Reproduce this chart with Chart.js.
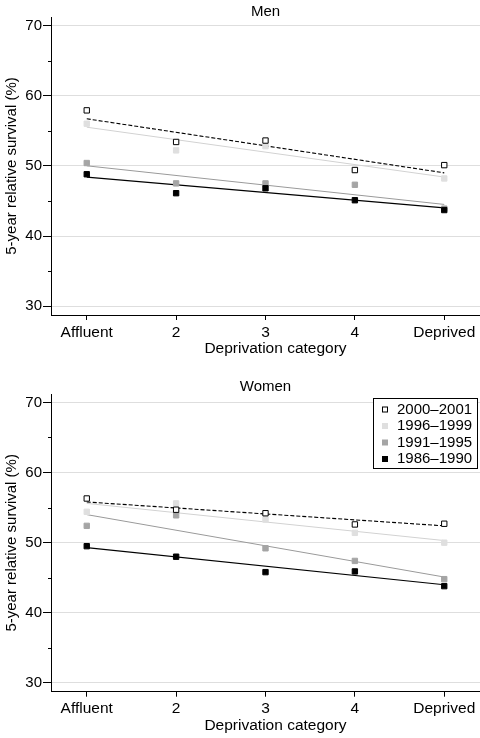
<!DOCTYPE html>
<html><head><meta charset="utf-8">
<script src="https://cdn.jsdelivr.net/npm/chart.js@4/dist/chart.umd.min.js"></script>
<style>html,body{margin:0;padding:0;background:#fff;} canvas{display:block;}</style>
</head><body>
<canvas id="men" width="480" height="369"></canvas>
<canvas id="women" width="480" height="369"></canvas>
<script>
// ---- data ----
const categories = ['Affluent', '2', '3', '4', 'Deprived'];
const periods = ['2000–2001', '1996–1999', '1991–1995', '1986–1990'];
const yTicks = [30, 35, 40, 45, 50, 55, 60, 65, 70];
const yLabelTicks = [30, 40, 50, 60, 70];

const men2000 = [57.9, 53.4, 53.6, 49.4, 50.1];
const men1996 = [56.0, 52.2, 52.8, 49.4, 48.2];
const men1991 = [50.4, 47.5, 47.5, 47.3, 43.9];
const men1986 = [48.8, 46.1, 46.8, 45.1, 43.7];
// fitted trend lines: value at Affluent, value at Deprived
const menFit2000 = [56.7, 49.0];
const menFit1996 = [55.5, 48.4];
const menFit1991 = [50.0, 44.5];
const menFit1986 = [48.4, 44.0];

const women2000 = [56.3, 54.7, 54.2, 52.6, 52.7];
const women1996 = [54.4, 55.6, 53.3, 51.4, 50.0];
const women1991 = [52.4, 53.9, 49.2, 47.4, 44.8];
const women1986 = [49.5, 48.0, 45.8, 45.9, 43.8];
const womenFit2000 = [55.8, 52.4];
const womenFit1996 = [55.6, 50.3];
const womenFit1991 = [54.0, 45.1];
const womenFit1986 = [49.3, 44.0];

// ---- styles ----
const FONT = '"Liberation Sans", Arial, Helvetica, sans-serif';
Chart.defaults.font.family = FONT;
Chart.defaults.font.size = 15;
Chart.defaults.color = '#000';
const markerFill = ['#ffffff', '#dfdfdf', '#a5a5a5', '#000000'];
const markerBorder = ['#000000', '#dfdfdf', '#a5a5a5', '#000000'];
const lineColor = ['#000000', '#d2d2d2', '#9a9a9a', '#000000'];
const lineDash = [[4, 2], [], [], []];
const lineWidth = [1.1, 1, 1, 1.2];
const markerOrder = [0, 3, 2, 1];

const isCatTick = c => !!(c.tick && Number.isInteger(c.tick.value) && c.tick.value >= 1 && c.tick.value <= categories.length);

const minorTicks = {
  id: 'minorTicks',
  afterDraw(chart) {
    const s = chart.scales.y, ctx = chart.ctx, l = chart.chartArea.left;
    ctx.save(); ctx.strokeStyle = '#000'; ctx.lineWidth = 1;
    yTicks.filter(v => !yLabelTicks.includes(v)).forEach(v => {
      const y = Math.round(s.getPixelForValue(v)) + 0.5;
      ctx.beginPath(); ctx.moveTo(l - 3, y); ctx.lineTo(l, y); ctx.stroke();
    });
    ctx.restore();
  }
};

const texts = {
  id: 'texts',
  afterDraw(chart, args, o) {
    const ctx = chart.ctx, ca = chart.chartArea;
    ctx.save();
    ctx.fillStyle = '#000';
    ctx.font = '15px ' + FONT;
    ctx.textAlign = 'center';
    ctx.textBaseline = 'alphabetic';
    ctx.fillText(o.title, (ca.left + ca.right) / 2, o.titleY);
    ctx.textBaseline = 'middle';
    ctx.font = '15.5px ' + FONT;
    ctx.fillText('Deprivation category', (ca.left + ca.right) / 2 + 10, o.xTitleY);
    if (o.legend) {
      ctx.font = '15px ' + FONT;
      const bx = 373.5, by = 29.5, bw = 104, bh = 70;
      ctx.fillStyle = '#fff'; ctx.fillRect(bx, by, bw, bh);
      ctx.strokeStyle = '#000'; ctx.lineWidth = 1; ctx.strokeRect(bx, by, bw, bh);
      const rows = [40.5, 57, 73.5, 90];
      ctx.textAlign = 'left';
      periods.forEach((p, i) => {
        const cy = rows[i];
        ctx.fillStyle = markerFill[i];
        ctx.fillRect(382, cy - 3, 6, 6);
        if (i === 0) { ctx.strokeStyle = '#000'; ctx.strokeRect(382.5, cy - 2.5, 5, 5); }
        ctx.fillStyle = '#000';
        ctx.fillText(p, 397, cy);
      });
    }
    ctx.restore();
  }
};

function makeChart(id, series, fits, o) {
  const datasets = [];
  series.forEach((vals, i) => {
    datasets.push({
      label: periods[i],
      data: vals.map((v, j) => ({ x: j + 1, y: v })),
      showLine: false,
      pointStyle: 'rect',
      pointRadius: 3.8,
      pointBackgroundColor: markerFill[i],
      pointBorderColor: markerBorder[i],
      pointBorderWidth: 1,
      order: markerOrder[i]
    });
  });
  fits.forEach((f, i) => {
    datasets.push({
      label: periods[i] + ' fit',
      data: [{ x: 1, y: f[0] }, { x: categories.length, y: f[1] }],
      showLine: true,
      pointRadius: 0,
      borderColor: lineColor[i],
      borderWidth: lineWidth[i],
      borderDash: lineDash[i],
      order: 10 + i
    });
  });
  return new Chart(document.getElementById(id), {
    type: 'scatter',
    data: { datasets },
    plugins: [minorTicks, texts],
    options: {
      responsive: false, animation: false, devicePixelRatio: 1,
      layout: { autoPadding: false, padding: { top: o.topPad, right: 0, bottom: 0, left: 0 } },
      plugins: {
        legend: { display: false }, tooltip: { enabled: false },
        texts: o
      },
      scales: {
        x: {
          type: 'linear', min: 0.6, max: 5.4,
          afterBuildTicks: s => { s.ticks = categories.map((c, i) => ({ value: i + 1 })); },
          afterFit: s => { s.height = o.bottomH; s.paddingLeft = 0; s.paddingRight = 0; },
          ticks: { callback: v => categories[Math.round(v) - 1], padding: 3, autoSkip: false, maxRotation: 0, color: '#000', font: { size: 15.5 } },
          grid: {
            drawOnChartArea: false, drawTicks: true, tickLength: 5,
            color: c => isCatTick(c) ? '#000' : 'rgba(0,0,0,0)',
            tickColor: c => isCatTick(c) ? '#000' : 'rgba(0,0,0,0)'
          },
          border: { display: true, color: '#000', width: 1 }
        },
        y: {
          type: 'linear', min: 28.75, max: 71.2,
          afterBuildTicks: s => { s.ticks = yTicks.map(v => ({ value: v })); },
          afterFit: s => { s.width = 51; s.paddingTop = 0; s.paddingBottom = 0; },
          ticks: { callback: v => yLabelTicks.includes(v) ? String(v) : '', padding: 1, autoSkip: false, color: '#000', font: { size: 15 } },
          grid: {
            color: c => yLabelTicks.includes(c.tick && c.tick.value) ? '#dedede' : 'rgba(0,0,0,0)',
            tickColor: c => yLabelTicks.includes(c.tick && c.tick.value) ? '#000' : 'rgba(0,0,0,0)',
            tickLength: 8, drawTicks: true
          },
          border: { display: true, color: '#000', width: 1 },
          title: { display: true, text: '5-year relative survival (%)', color: '#000', font: { size: 15 }, padding: { top: 3, bottom: 0 } }
        }
      }
    }
  });
}

makeChart('men', [men2000, men1996, men1991, men1986], [menFit2000, menFit1996, menFit1991, menFit1986],
  { title: 'Men', titleY: 15.5, xTitleY: 349, topPad: 17, bottomH: 54, legend: false });
makeChart('women', [women2000, women1996, women1991, women1986], [womenFit2000, womenFit1996, womenFit1991, womenFit1986],
  { title: 'Women', titleY: 22, xTitleY: 357, topPad: 25, bottomH: 46.3, legend: true });
</script>
</body></html>
